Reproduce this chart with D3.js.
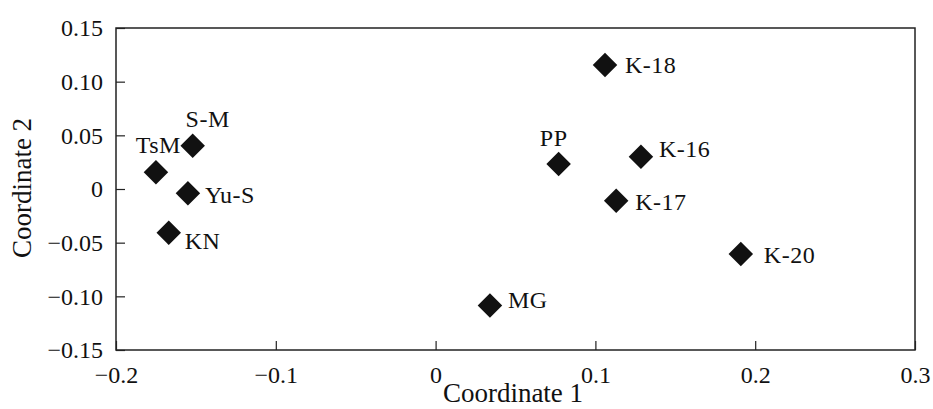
<!DOCTYPE html>
<html>
<head>
<meta charset="utf-8">
<script src="https://cdn.jsdelivr.net/npm/d3@7.9.0/dist/d3.min.js"></script>
<style>
  body { margin: 0; background: #fff; }
  svg text { font-family: "Liberation Serif", "Times New Roman", serif !important; fill: #111; }
</style>
</head>
<body>
<svg width="933" height="409"></svg>
<script>
// site names and their coordinates
const sites = ['K-18', 'K-16', 'K-17', 'K-20', 'PP', 'MG', 'S-M', 'TsM', 'Yu-S', 'KN'];
const coord1 = [0.106, 0.1285, 0.113, 0.191, 0.077, 0.034, -0.152, -0.175, -0.155, -0.167];
const coord2 = [0.1155, 0.030, -0.011, -0.0606, 0.0233, -0.1086, 0.0403, 0.0156, -0.004, -0.0407];

// tick values and labels
const xTicks = [-0.2, -0.1, 0, 0.1, 0.2, 0.3];
const xTickLabels = ['\u22120.2', '\u22120.1', '0', '0.1', '0.2', '0.3'];
const yTicks = [-0.15, -0.10, -0.05, 0, 0.05, 0.10, 0.15];
const yTickLabels = ['\u22120.15', '\u22120.10', '\u22120.05', '0', '0.05', '0.10', '0.15'];

// label placement relative to each marker: [dx, dy, anchor]
const labelPos = {
  'K-18': [20, 8, 'start'],
  'K-16': [18, 0, 'start'],
  'K-17': [19, 9, 'start'],
  'K-20': [23, 9, 'start'],
  'PP': [-5, -18, 'middle'],
  'MG': [18, 2, 'start'],
  'S-M': [15, -19, 'middle'],
  'TsM': [25, -19, 'end'],
  'Yu-S': [17, 10, 'start'],
  'KN': [16, 16, 'start']
};

const serif = '"Liberation Serif", "Times New Roman", serif';
const plotLeft = 116, plotRight = 915, plotTop = 28, plotBottom = 350;

const x = d3.scaleLinear().domain([-0.2, 0.3]).range([plotLeft, plotRight]);
const y = d3.scaleLinear().domain([-0.15, 0.15]).range([plotBottom, plotTop]);

const svg = d3.select('svg');

// frame
svg.append('rect')
  .attr('x', plotLeft).attr('y', plotTop)
  .attr('width', plotRight - plotLeft).attr('height', plotBottom - plotTop)
  .attr('fill', 'none').attr('stroke', '#222').attr('stroke-width', 1.5);

// x axis (ticks point inward)
const xAxis = d3.axisBottom(x)
  .tickValues(xTicks)
  .tickSizeInner(-9).tickSizeOuter(0)
  .tickPadding(16)
  .tickFormat((d, i) => xTickLabels[i]);

const gx = svg.append('g')
  .attr('transform', `translate(0,${plotBottom})`)
  .attr('font-family', serif)
  .call(xAxis);
gx.select('.domain').remove();
gx.selectAll('.tick line').attr('stroke', '#222').attr('stroke-width', 1.2);
gx.selectAll('.tick text')
  .attr('font-size', 24)
  .style('font-family', serif)
  .attr('fill', '#111');

// y axis
const yAxis = d3.axisLeft(y)
  .tickValues(yTicks)
  .tickSizeInner(-9).tickSizeOuter(0)
  .tickPadding(13)
  .tickFormat((d, i) => yTickLabels[i]);

const gy = svg.append('g')
  .attr('transform', `translate(${plotLeft},0)`)
  .attr('font-family', serif)
  .call(yAxis);
gy.select('.domain').remove();
gy.selectAll('.tick line').attr('stroke', '#222').attr('stroke-width', 1.2);
gy.selectAll('.tick text')
  .attr('font-size', 24)
  .style('font-family', serif)
  .attr('fill', '#111');

// axis titles
svg.append('text')
  .attr('x', 513).attr('y', 402)
  .attr('text-anchor', 'middle')
  .attr('font-size', 27)
  .style('font-family', serif)
  .text('Coordinate 1');

svg.append('text')
  .attr('transform', `translate(31,188) rotate(-90)`)
  .attr('text-anchor', 'middle')
  .attr('font-size', 27)
  .style('font-family', serif)
  .text('Coordinate 2');

// markers: filled diamonds
const diamond = d3.symbol().type(d3.symbolSquare).size(300);

const pts = svg.append('g');
sites.forEach((name, i) => {
  const px = x(coord1[i]);
  const py = y(coord2[i]);
  pts.append('path')
    .attr('d', diamond())
    .attr('transform', `translate(${px},${py}) rotate(45)`)
    .attr('fill', '#111');

  const [dx, dy, anchor] = labelPos[name];
  pts.append('text')
    .attr('x', px + dx).attr('y', py + dy)
    .attr('text-anchor', anchor)
    .attr('font-size', 24)
    .attr('letter-spacing', 0.5)
    .style('font-family', serif)
    .text(name);
});
</script>
</body>
</html>
